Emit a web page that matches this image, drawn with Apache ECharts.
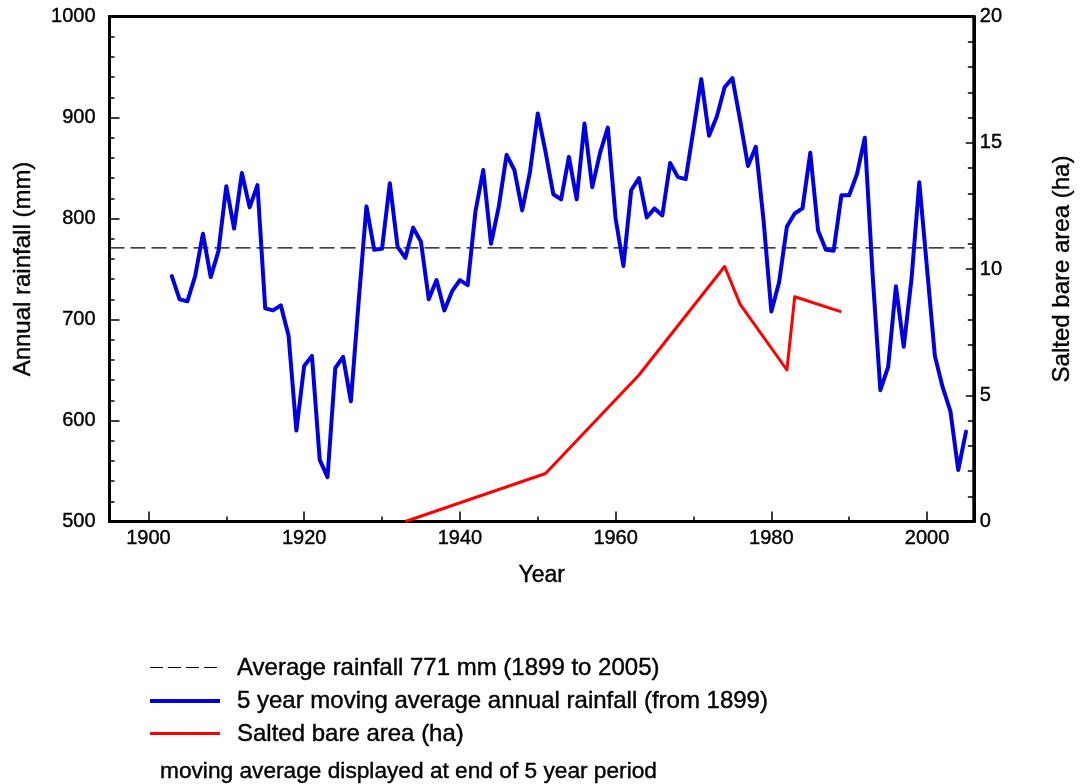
<!DOCTYPE html>
<html>
<head>
<meta charset="utf-8">
<title>Annual rainfall and salted bare area</title>
<script src="https://cdn.jsdelivr.net/npm/echarts@6/dist/echarts.min.js"></script>
<style>
  html, body { margin: 0; padding: 0; background: #fff; }
  #chart { width: 1083px; height: 784px; }
</style>
</head>
<body>
<div id="chart"></div>
<script>
// 5 year moving average of annual rainfall (mm), one value per year from firstRainYear
const firstRainYear = 1903;
const movingAvgRainfall = [
  743, 720, 718, 743, 785, 742, 768, 832, 790, 845,   // 1903-1912
  811, 833, 711, 709, 714, 684, 590, 654, 664, 561,   // 1913-1922
  544, 652, 663, 619, 718, 812, 769, 770, 835, 772,   // 1923-1932
  761, 791, 777, 720, 739, 709, 728, 739, 734, 807,   // 1933-1942
  848, 775, 812, 863, 848, 808, 846, 904, 866, 824,   // 1943-1952
  819, 861, 819, 894, 831, 865, 890, 800, 753, 828,   // 1953-1962
  840, 801, 810, 803, 855, 841, 839, 888, 938, 882,   // 1963-1972
  901, 930, 939, 897, 852, 871, 798, 708, 737, 792,   // 1973-1982
  805, 810, 865, 788, 769, 768, 823, 823, 844, 880,   // 1983-1992
  745, 630, 653, 733, 673, 740, 836, 750, 664, 633,   // 1993-2002
  609, 551, 589                                       // 2003-2005
];

// Long-term average rainfall (mm)
const averageRainfall = 771;

// Salted bare area survey (ha)
const saltYears = [1933, 1951, 1963, 1974, 1976, 1982, 1983, 1989];
const saltArea  = [0, 1.9, 5.8, 10.1, 8.6, 6.0, 8.9, 8.3];

// Axis extents and tick values
const yearMin = 1895, yearMax = 2006;
const yearLabels = [1900, 1920, 1940, 1960, 1980, 2000];
const yearMinorTicks = [1910, 1930, 1950, 1970, 1990];

const seriesNames = [
  'Average rainfall 771 mm (1899 to 2005)',
  '5 year moving average annual rainfall (from 1899)',
  'Salted bare area (ha)'
];
const noteText = 'moving average displayed at end of 5 year period';

const rainData = movingAvgRainfall.map((v, i) => [firstRainYear + i, v]);
const saltData = saltYears.map((y, i) => [y, saltArea[i]]);
const avgData = [[yearMin, averageRainfall], [yearMax, averageRainfall]];

const FONT = '"Liberation Sans", Arial, Helvetica, sans-serif';
const BLUE = '#0000e0';
const RED = '#ff0000';
const plain = v => String(v);
// slightly heavier text strokes
const ink = { color: '#000', fontFamily: FONT, textBorderColor: '#000', textBorderWidth: 0.4 };

const chart = echarts.init(document.getElementById('chart'), null, { renderer: 'canvas' });

// Key below the plot: sample line + description for each series
const keyRows = [
  { y: 667.5, stroke: '#000', width: 1, dash: [13, 5], x2: 218 },
  { y: 701, stroke: BLUE, width: 4, dash: null, x2: 220 },
  { y: 733.5, stroke: RED, width: 3, dash: null, x2: 220 }
];
const keyGraphics = [];
keyRows.forEach((row, i) => {
  keyGraphics.push({
    type: 'line',
    shape: { x1: 150, y1: row.y, x2: row.x2, y2: row.y },
    style: { stroke: row.stroke, lineWidth: row.width, lineDash: row.dash }
  });
  keyGraphics.push({
    type: 'text', x: 237, y: Math.round(row.y),
    style: { text: seriesNames[i], font: '24px ' + FONT, fill: '#000', verticalAlign: 'middle',
             stroke: '#000', lineWidth: 0.4 }
  });
});
keyGraphics.push({
  type: 'text', x: 160, y: 772,
  style: { text: noteText, font: '22.7px ' + FONT, fill: '#000', verticalAlign: 'middle',
           stroke: '#000', lineWidth: 0.4 }
});

chart.setOption({
  animation: false,
  backgroundColor: '#fff',
  textStyle: { fontFamily: FONT, color: '#000' },
  grid: {
    left: 109.5, right: 96, top: 16.5, bottom: 262.5,
    show: true, borderColor: '#000', borderWidth: 3,
    containLabel: false
  },
  xAxis: [
    {
      type: 'value', min: yearMin, max: yearMax, position: 'bottom',
      name: 'Year', nameLocation: 'middle', nameGap: 43,
      nameTextStyle: Object.assign({ fontSize: 23 }, ink),
      axisLine: { show: true, lineStyle: { color: '#000', width: 3 } },
      axisTick: { show: true, inside: true, length: 10, customValues: yearLabels,
                  lineStyle: { color: '#000', width: 1.5 } },
      axisLabel: Object.assign({ customValues: yearLabels, fontSize: 20, margin: 7,
                   formatter: plain }, ink),
      splitLine: { show: false }
    },
    {
      type: 'value', min: yearMin, max: yearMax, position: 'bottom', offset: 0,
      axisLine: { show: false },
      axisTick: { show: true, inside: true, length: 5, customValues: yearMinorTicks,
                  lineStyle: { color: '#000', width: 1.5 } },
      axisLabel: { show: false },
      splitLine: { show: false }
    }
  ],
  yAxis: [
    {
      type: 'value', min: 500, max: 1000, interval: 100, position: 'left',
      name: 'Annual rainfall (mm)', nameLocation: 'middle', nameGap: 74,
      nameTextStyle: Object.assign({ fontSize: 24 }, ink),
      axisLine: { show: true, lineStyle: { color: '#000', width: 3 } },
      axisTick: { show: true, inside: true, length: 10, lineStyle: { color: '#000', width: 1.5 } },
      minorTick: { show: true, splitNumber: 5, length: 5, lineStyle: { color: '#000', width: 1.5 } },
      axisLabel: Object.assign({ fontSize: 20, margin: 14, formatter: plain }, ink),
      splitLine: { show: false }
    },
    {
      type: 'value', min: 0, max: 20, interval: 5, position: 'right',
      name: 'Salted bare area (ha)', nameLocation: 'middle', nameGap: 77,
      nameTextStyle: Object.assign({ fontSize: 24 }, ink),
      axisLine: { show: true, lineStyle: { color: '#000', width: 3 } },
      axisTick: { show: true, inside: true, length: 8, lineStyle: { color: '#000', width: 1.5 } },
      minorTick: { show: true, splitNumber: 5, length: 6, lineStyle: { color: '#000', width: 1.5 } },
      axisLabel: Object.assign({ fontSize: 20, margin: 6, formatter: plain }, ink),
      splitLine: { show: false }
    }
  ],
  series: [
    {
      name: seriesNames[0], type: 'line', xAxisIndex: 0, yAxisIndex: 0,
      data: avgData, symbol: 'none', silent: true, z: 1,
      lineStyle: { color: '#000', width: 1.2, type: [15, 6] }
    },
    {
      name: seriesNames[1], type: 'line', xAxisIndex: 0, yAxisIndex: 0,
      data: rainData, symbol: 'none', z: 3,
      lineStyle: { color: BLUE, width: 4, join: 'round', cap: 'round' }
    },
    {
      name: seriesNames[2], type: 'line', xAxisIndex: 0, yAxisIndex: 1,
      data: saltData, symbol: 'none', z: 2,
      lineStyle: { color: RED, width: 3, join: 'round' }
    }
  ],
  graphic: keyGraphics
});
</script>
</body>
</html>
